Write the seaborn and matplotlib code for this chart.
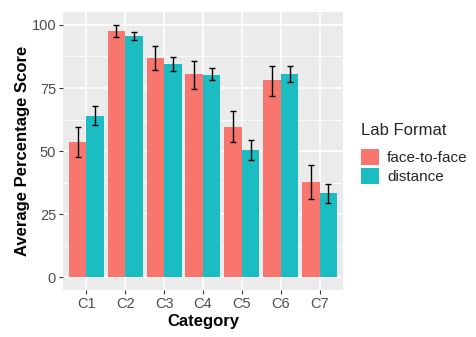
import numpy as np
import pandas as pd
import matplotlib
matplotlib.use("Agg")
import matplotlib.pyplot as plt
from matplotlib.patches import Patch
import seaborn as sns

categories = ["C1", "C2", "C3", "C4", "C5", "C6", "C7"]
formats = ["face-to-face", "distance"]
f2f_mean = [53.5, 97.6, 87.0, 80.5, 59.5, 78.0, 37.8]
f2f_lo = [47.6, 95.3, 82.3, 74.8, 53.5, 72.0, 31.1]
f2f_hi = [59.4, 100.0, 91.7, 85.8, 65.7, 83.8, 44.5]
dist_mean = [64.0, 95.7, 84.6, 80.3, 50.3, 80.7, 33.3]
dist_lo = [60.2, 94.1, 81.9, 78.0, 46.5, 77.2, 29.5]
dist_hi = [67.7, 97.2, 87.4, 83.0, 54.3, 83.8, 37.0]
colors = ["#F8766D", "#1CBDC2"]
yticks = [0, 25, 50, 75, 100]

df = pd.DataFrame({
    "Category": categories * 2,
    "Lab Format": [formats[0]] * 7 + [formats[1]] * 7,
    "score": f2f_mean + dist_mean,
    "lo": f2f_lo + dist_lo,
    "hi": f2f_hi + dist_hi,
})

sns.set_theme(style="darkgrid")
plt.rcParams["font.family"] = ["Liberation Sans", "DejaVu Sans"]

fig = plt.figure(figsize=(4.77, 3.37), dpi=100)
ax = fig.add_axes([63 / 477, 1 - 290 / 337, 280 / 477, 278 / 337])
ax.set_facecolor("#EBEBEB")

sns.barplot(data=df, x="Category", y="score", hue="Lab Format", order=categories,
            hue_order=formats, palette=colors, width=0.9, errorbar=None,
            saturation=1, linewidth=0, ax=ax, legend=False, zorder=2)

# error bars from bar patches
bars = [p for p in ax.patches]
for p, (_, row) in zip(bars, df.iterrows()):
    cx = p.get_x() + p.get_width() / 2
    ax.errorbar(cx, row["score"], yerr=[[row["score"] - row["lo"]], [row["hi"] - row["score"]]],
                fmt="none", ecolor="black", elinewidth=1.0, capsize=2.2, capthick=1.0, zorder=3)

ax.set_xlim(-0.6, 6.6)
ax.set_ylim(-5.0, 105.1)
ax.set_yticks(yticks)
ax.set_yticks([12.5, 37.5, 62.5, 87.5], minor=True)
ax.grid(which="major", color="white", linewidth=1.1, zorder=0)
ax.grid(which="minor", axis="y", color="white", linewidth=0.55, zorder=0)
ax.grid(which="major", axis="x", color="white", linewidth=1.1)
ax.set_axisbelow(True)
for s in ax.spines.values():
    s.set_visible(False)
ax.tick_params(axis="both", which="major", length=3, width=0.8, color="#333333",
               labelcolor="#4D4D4D", labelsize=10.5, pad=2, bottom=True, left=True)
ax.tick_params(axis="both", which="minor", length=0)
ax.set_xlabel("Category", fontsize=12, fontweight="bold", color="black", labelpad=2)
ax.set_ylabel("Average Percentage Score", fontsize=12, fontweight="bold", color="black", labelpad=1)

handles = [Patch(facecolor=c, edgecolor="none") for c in colors]
leg = fig.legend(handles, formats, title="Lab Format", loc="upper left",
                 bbox_to_anchor=(355 / 477, 1 - 117 / 337), frameon=False,
                 fontsize=11, title_fontsize=12, handlelength=1.15, handleheight=1.2,
                 handletextpad=0.55, labelspacing=0.2, borderaxespad=0)
leg._legend_box.align = "left"
leg._legend_box.sep = 8

fig.savefig("out.png", dpi=100)
